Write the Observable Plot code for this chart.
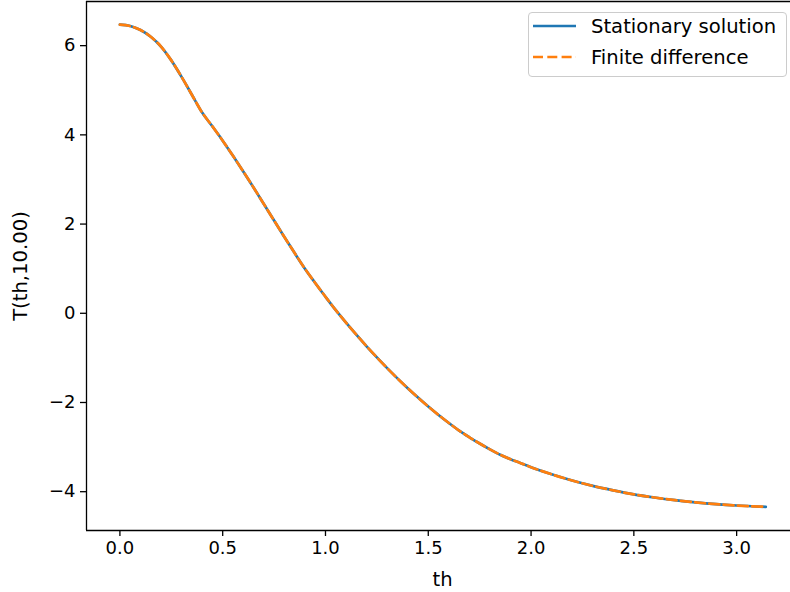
<!DOCTYPE html>
<html>
<head>
<meta charset="utf-8">
<script src="https://cdn.jsdelivr.net/npm/d3@7"></script>
<script src="https://cdn.jsdelivr.net/npm/@observablehq/plot@0.6"></script>
<style>
  html, body { margin: 0; padding: 0; background: #fff; }
  #wrap { position: relative; width: 790px; height: 592px; overflow: hidden; font-family: "DejaVu Sans", sans-serif; }
  #legend { position: absolute; left: 528px; top: 12px; width: 257px; height: 63px; border: 1px solid #cccccc; border-radius: 4px; background: rgba(255,255,255,0.8); }
  .lrow { position: absolute; left: 0; height: 24px; display: flex; align-items: center; font-size: 19.6px; color: #000; white-space: nowrap; }
  .lrow svg { margin-left: 4px; margin-right: 15px; }
</style>
</head>
<body>
<div id="wrap"></div>
<script>
// --- data ---
const thValues = [0.00, 0.05, 0.10, 0.15, 0.20, 0.25, 0.30, 0.35, 0.40, 0.45, 0.50, 0.55, 0.60, 0.65, 0.70, 0.75, 0.80, 0.85, 0.90, 0.95,
  1.00, 1.05, 1.10, 1.15, 1.20, 1.25, 1.30, 1.35, 1.40, 1.45, 1.50, 1.55, 1.60, 1.65, 1.70, 1.75, 1.80, 1.85, 1.90, 1.95,
  2.00, 2.10, 2.20, 2.30, 2.40, 2.50, 2.60, 2.70, 2.80, 2.90, 3.00, 3.1416];
const stationaryT = [6.47, 6.44, 6.35, 6.20, 5.98, 5.67, 5.30, 4.90, 4.50, 4.19, 3.87, 3.53, 3.18, 2.82, 2.45, 2.08, 1.71, 1.35, 1.00, 0.68,
  0.37, 0.07, -0.21, -0.48, -0.74, -0.99, -1.23, -1.46, -1.68, -1.89, -2.09, -2.28, -2.46, -2.63, -2.78, -2.92, -3.05, -3.17, -3.27, -3.36,
  -3.45, -3.61, -3.75, -3.87, -3.97, -4.06, -4.13, -4.19, -4.24, -4.28, -4.31, -4.34];
const finiteDiffT = [6.47, 6.44, 6.35, 6.20, 5.98, 5.67, 5.30, 4.90, 4.50, 4.19, 3.87, 3.53, 3.18, 2.82, 2.45, 2.08, 1.71, 1.35, 1.00, 0.68,
  0.37, 0.07, -0.21, -0.48, -0.74, -0.99, -1.23, -1.46, -1.68, -1.89, -2.09, -2.28, -2.46, -2.63, -2.78, -2.92, -3.05, -3.17, -3.27, -3.36,
  -3.45, -3.61, -3.75, -3.87, -3.97, -4.06, -4.13, -4.19, -4.24, -4.28, -4.31, -4.34];
const xTicks = [0, 0.5, 1.0, 1.5, 2.0, 2.5, 3.0];
const yTicks = [-4, -2, 0, 2, 4, 6];
const seriesNames = ["Stationary solution", "Finite difference"];
const xLabel = "th";
const yLabel = "T(th,10.00)";

const stationary = thValues.map((th, i) => ({th, T: stationaryT[i]}));
const finite = thValues.map((th, i) => ({th, T: finiteDiffT[i]}));

const xDomain = [-0.1625, 3.262];
const yDomain = [-4.87, 6.99];
const blue = "#1f77b4", orange = "#ff7f0e";

const chart = Plot.plot({
  width: 790,
  height: 592,
  marginLeft: 86,
  marginRight: 0,
  marginTop: 1,
  marginBottom: 62,
  style: {fontFamily: "DejaVu Sans", fontSize: "18px", color: "#000", background: "#fff", overflow: "visible"},
  x: {domain: xDomain},
  y: {domain: yDomain},
  marks: [
    Plot.axisX({ticks: xTicks, tickSize: 6, tickPadding: 5, tickFormat: d3.format(".1f"), label: null, strokeWidth: 1.3}),
    Plot.axisY({ticks: yTicks, tickSize: 6, tickPadding: 5, tickFormat: d3.format("d"), label: null, strokeWidth: 1.3}),
    Plot.line(stationary, {x: "th", y: "T", stroke: blue, strokeWidth: 2.7, curve: "monotone-x"}),
    Plot.line(finite, {x: "th", y: "T", stroke: orange, strokeWidth: 2.7, strokeDasharray: "10,4.3", curve: "monotone-x"}),
    Plot.ruleX([xDomain[0]], {stroke: "#000", strokeWidth: 1.3}),
    Plot.ruleY([yDomain[0], yDomain[1]], {stroke: "#000", strokeWidth: 1.3}),
    Plot.text([xLabel], {frameAnchor: "bottom", textAnchor: "middle", lineAnchor: "middle", dx: 4, dy: 49, fontSize: 19.6, fill: "#000"}),
    Plot.text([yLabel], {frameAnchor: "left", textAnchor: "middle", lineAnchor: "middle", dx: -66, rotate: -90, fontSize: 19.6, fill: "#000"})
  ]
});

const wrap = document.getElementById("wrap");
wrap.appendChild(chart);

// legend
const legend = document.createElement("div");
legend.id = "legend";
const styles = [
  {stroke: blue, dash: null},
  {stroke: orange, dash: "10,4.3"}
];
seriesNames.forEach((name, i) => {
  const row = document.createElement("div");
  row.className = "lrow";
  row.style.top = (i === 0 ? 1 : 32) + "px";
  const s = d3.create("svg").attr("width", 43).attr("height", 10);
  s.append("line").attr("x1", 0).attr("x2", 43).attr("y1", 5).attr("y2", 5)
    .attr("stroke", styles[i].stroke).attr("stroke-width", 2.7)
    .attr("stroke-dasharray", styles[i].dash);
  row.appendChild(s.node());
  const t = document.createElement("span");
  t.textContent = name;
  row.appendChild(t);
  legend.appendChild(row);
});
wrap.appendChild(legend);
</script>
</body>
</html>
